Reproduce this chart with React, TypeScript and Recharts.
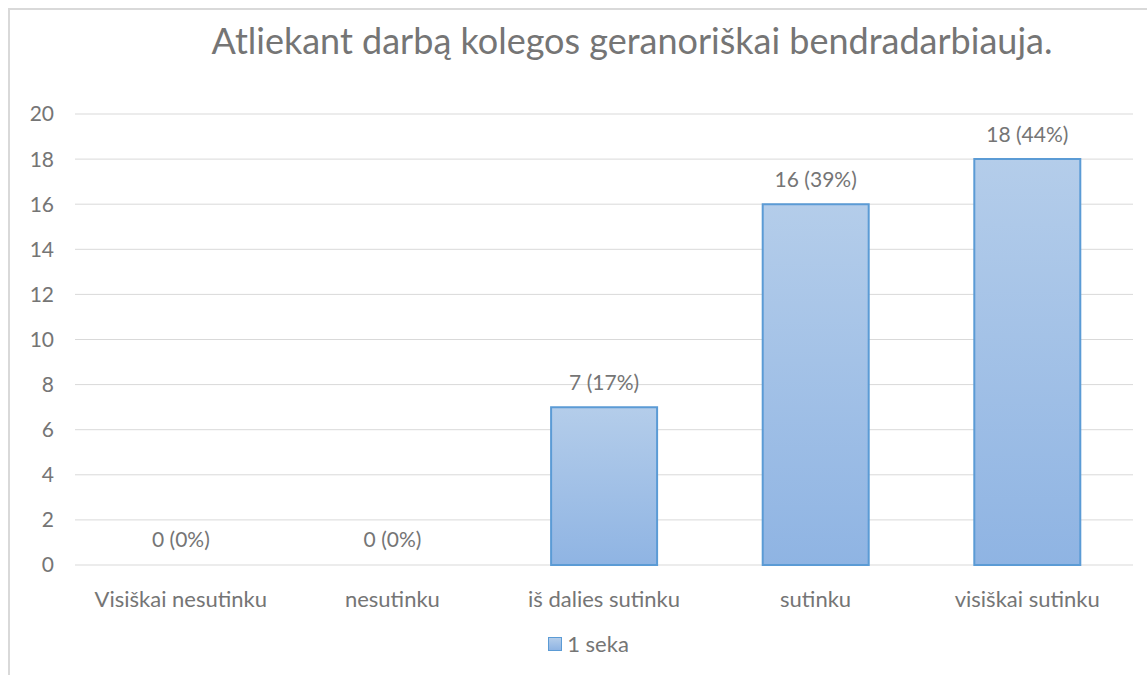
import { Bar, BarChart, CartesianGrid, Cell, LabelList, Legend, XAxis, YAxis } from "recharts"

const categories = [
  "Visiškai nesutinku",
  "nesutinku",
  "iš dalies sutinku",
  "sutinku",
  "visiškai sutinku",
]
const counts = [0, 0, 7, 16, 18]
const percents = [0, 0, 17, 39, 44]
const yTicks = [0, 2, 4, 6, 8, 10, 12, 14, 16, 18, 20]
const seriesName = "1 seka"
const title = "Atliekant darbą kolegos geranoriškai bendradarbiauja."

const data = categories.map((name, i) => ({
  name,
  value: counts[i],
  label: `${counts[i]} (${percents[i]}%)`,
}))

const textColor = "#757575"
const font = "Lato, 'Open Sans', sans-serif"

const LegendContent = () => (
  <div
    style={{
      display: "flex",
      justifyContent: "center",
      alignItems: "center",
      fontFamily: font,
      fontSize: 22,
      color: textColor,
      paddingLeft: 20,
    }}
  >
    <span
      style={{
        width: 12,
        height: 12,
        background: "linear-gradient(#b4cdea, #8fb4e3)",
        border: "1px solid #5b9bd5",
        marginRight: 5,
      }}
    />
    <span>{seriesName}</span>
  </div>
)

export default function App() {
  return (
    <>
      <style>{"body{margin:0;overflow:hidden}"}</style>
      <div
        style={{
          position: "absolute",
          left: 8,
          top: 8,
          width: 1139,
          height: 667,
          borderLeft: "2px solid #d9d9d9",
          borderTop: "2px solid #d9d9d9",
          background: "#fff",
        }}
      >
        <div
          style={{
            position: "absolute",
            left: 0,
            width: 1244,
            top: 10,
            textAlign: "center",
            fontFamily: font,
            fontSize: 36,
            color: textColor,
            lineHeight: "40px",
            whiteSpace: "nowrap",
          }}
        >
          {title}
        </div>
        <BarChart
          width={1137}
          height={665}
          data={data}
          margin={{ top: 104, right: 14, left: 10, bottom: 80 }}
          barCategoryGap="25%"
        >
          <defs>
            <linearGradient id="barFill" x1="0" y1="0" x2="0" y2="1">
              <stop offset="0%" stopColor="#b4cdea" />
              <stop offset="100%" stopColor="#8fb4e3" />
            </linearGradient>
          </defs>
          <CartesianGrid vertical={false} stroke="#d9d9d9" strokeWidth={1} />
          <XAxis
            dataKey="name"
            axisLine={false}
            tickLine={false}
            tickMargin={20}
            tick={{ fontSize: 22, fill: textColor, fontFamily: font }}
            interval={0}
          />
          <YAxis
            domain={[0, 20]}
            ticks={yTicks}
            axisLine={false}
            tickLine={false}
            width={55}
            tickMargin={15}
            tick={{ fontSize: 21, fill: textColor, fontFamily: font }}
          />
          <Legend
            verticalAlign="middle"
            align="center"
            layout="horizontal"
            content={<LegendContent />}
            wrapperStyle={{ top: 620, left: 0, width: 1137 }}
          />
          <Bar
            dataKey="value"
            name={seriesName}
            fill="url(#barFill)"
            stroke="#5b9bd5"
            strokeWidth={2}
            minPointSize={1}
            isAnimationActive={false}
          >
            {data.map((d) => (
              <Cell
                key={d.name}
                fill={d.value > 0 ? "url(#barFill)" : "none"}
                stroke={d.value > 0 ? "#5b9bd5" : "none"}
              />
            ))}
            <LabelList
              dataKey="label"
              position="top"
              offset={17}
              fill={textColor}
              style={{ fontSize: 21, fontFamily: font }}
            />
          </Bar>
        </BarChart>
      </div>
    </>
  )
}
